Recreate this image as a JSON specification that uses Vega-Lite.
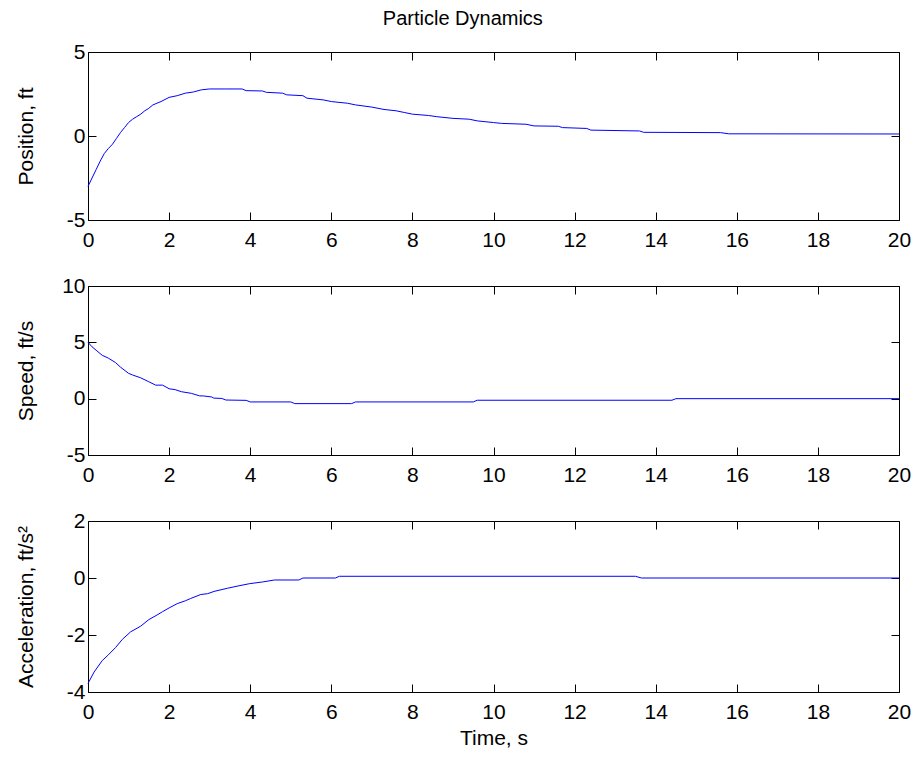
{
  "$schema": "https://vega.github.io/schema/vega-lite/v6.json",
  "title": {"text": "Particle Dynamics", "fontSize": 20, "font": "Liberation Sans", "fontWeight": "normal", "color": "black", "anchor": "middle", "offset": 12},
  "padding": {"left": 14, "top": 8, "right": 10, "bottom": 5},
  "background": "white",
  "datasets": {
    "pos": [
      {"t":0,"v":-3.0},{"t":0.1,"v":-2.5},{"t":0.2,"v":-2.0},{"t":0.3,"v":-1.5},{"t":0.4,"v":-1.05},{"t":0.5,"v":-0.75},{"t":0.6,"v":-0.5},{"t":0.7,"v":-0.15},{"t":0.8,"v":0.2},{"t":0.9,"v":0.5},{"t":1.0,"v":0.8},{"t":1.1,"v":1.0},{"t":1.2,"v":1.15},{"t":1.3,"v":1.3},{"t":1.4,"v":1.5},{"t":1.5,"v":1.65},{"t":1.6,"v":1.85},{"t":1.7,"v":1.95},{"t":1.8,"v":2.05},{"t":2.0,"v":2.3},{"t":2.2,"v":2.4},{"t":2.4,"v":2.55},{"t":2.6,"v":2.62},{"t":2.8,"v":2.75},{"t":3.0,"v":2.8},{"t":3.4,"v":2.8},{"t":3.8,"v":2.8},{"t":3.9,"v":2.7},{"t":4.3,"v":2.68},{"t":4.4,"v":2.6},{"t":4.8,"v":2.55},{"t":4.9,"v":2.45},{"t":5.3,"v":2.4},{"t":5.4,"v":2.25},{"t":5.8,"v":2.15},{"t":6.0,"v":2.05},{"t":6.4,"v":1.95},{"t":6.6,"v":1.85},{"t":7.0,"v":1.72},{"t":7.3,"v":1.58},{"t":7.6,"v":1.5},{"t":7.8,"v":1.4},{"t":8.0,"v":1.3},{"t":8.4,"v":1.22},{"t":8.6,"v":1.15},{"t":9.0,"v":1.05},{"t":9.4,"v":1.0},{"t":9.6,"v":0.9},{"t":10.0,"v":0.8},{"t":10.2,"v":0.75},{"t":10.8,"v":0.7},{"t":11.0,"v":0.6},{"t":11.6,"v":0.58},{"t":11.7,"v":0.5},{"t":12.3,"v":0.45},{"t":12.4,"v":0.35},{"t":13.6,"v":0.3},{"t":13.7,"v":0.22},{"t":15.6,"v":0.2},{"t":15.8,"v":0.13},{"t":20,"v":0.12}
    ],
    "spd": [
      {"t":0,"v":5.0},{"t":0.1,"v":4.6},{"t":0.2,"v":4.3},{"t":0.35,"v":3.85},{"t":0.5,"v":3.6},{"t":0.68,"v":3.2},{"t":0.8,"v":2.8},{"t":1.0,"v":2.25},{"t":1.1,"v":2.1},{"t":1.3,"v":1.85},{"t":1.5,"v":1.5},{"t":1.67,"v":1.2},{"t":1.84,"v":1.2},{"t":2.0,"v":0.88},{"t":2.15,"v":0.8},{"t":2.3,"v":0.62},{"t":2.55,"v":0.47},{"t":2.75,"v":0.25},{"t":2.85,"v":0.24},{"t":3.05,"v":0.15},{"t":3.1,"v":0.05},{"t":3.3,"v":0.02},{"t":3.4,"v":-0.12},{"t":3.9,"v":-0.15},{"t":4.0,"v":-0.29},{"t":5.0,"v":-0.29},{"t":5.1,"v":-0.44},{"t":6.5,"v":-0.44},{"t":6.6,"v":-0.29},{"t":9.5,"v":-0.29},{"t":9.6,"v":-0.14},{"t":14.4,"v":-0.14},{"t":14.5,"v":0},{"t":20,"v":0}
    ],
    "acc": [
      {"t":0,"v":-3.7},{"t":0.15,"v":-3.3},{"t":0.35,"v":-2.9},{"t":0.5,"v":-2.7},{"t":0.68,"v":-2.44},{"t":0.85,"v":-2.15},{"t":1.05,"v":-1.89},{"t":1.3,"v":-1.69},{"t":1.5,"v":-1.46},{"t":1.7,"v":-1.3},{"t":1.84,"v":-1.18},{"t":2.0,"v":-1.05},{"t":2.2,"v":-0.9},{"t":2.4,"v":-0.8},{"t":2.53,"v":-0.72},{"t":2.78,"v":-0.58},{"t":2.95,"v":-0.55},{"t":3.11,"v":-0.47},{"t":3.44,"v":-0.36},{"t":3.7,"v":-0.28},{"t":3.98,"v":-0.2},{"t":4.3,"v":-0.14},{"t":4.6,"v":-0.07},{"t":5.2,"v":-0.07},{"t":5.3,"v":0},{"t":6.1,"v":0},{"t":6.2,"v":0.06},{"t":13.5,"v":0.06},{"t":13.65,"v":0},{"t":20,"v":0}
    ]
  },
  "config": {
    "font": "Liberation Sans",
    "view": {"stroke": "black", "strokeWidth": 1},
    "axis": {
      "grid": false, "domain": false, "tickSize": -8, "tickColor": "black", "tickWidth": 1,
      "labelColor": "black", "labelFontSize": 21, "labelFont": "Liberation Sans", "labelFlush": false, "labelOverlap": false,
      "titleFontSize": 21, "titleFontWeight": "normal", "titleColor": "black", "titleFont": "Liberation Sans"
    },
    "axisLeft": {"labelPadding": 11, "minExtent": 25, "maxExtent": 25, "titlePadding": 27},
    "axisBottom": {"labelPadding": 17, "minExtent": 30, "maxExtent": 30, "titlePadding": 5},
    "line": {"color": "#0000ff", "strokeWidth": 1}
  },
  "bounds": "flush",
  "spacing": 66,
  "vconcat": [
    {
      "width": 811, "height": 168,
      "data": {"name": "pos"},
      "layer": [
        {"mark": {"type": "line", "color": "#0000ff", "strokeWidth": 1},
         "encoding": {
           "x": {"field": "t", "type": "quantitative", "scale": {"domain": [0, 20], "nice": false}, "axis": {"orient": "bottom", "values": [0,2,4,6,8,10,12,14,16,18,20], "title": null}},
           "y": {"field": "v", "type": "quantitative", "scale": {"domain": [-5, 5], "nice": false}, "axis": {"orient": "left", "values": [-5,0,5], "labelExpr": "replace(datum.label, '−', '-')", "title": "Position, ft"}}
         }},
        {"mark": {"type": "line", "opacity": 0},
         "encoding": {
           "x": {"field": "t", "type": "quantitative", "axis": {"orient": "top", "values": [0,2,4,6,8,10,12,14,16,18,20], "labels": false, "title": null}},
           "y": {"field": "v", "type": "quantitative", "axis": {"orient": "right", "values": [-5,0,5], "labels": false, "title": null}}
         }}
      ],
      "resolve": {"axis": {"x": "independent", "y": "independent"}}
    },
    {
      "width": 811, "height": 169,
      "data": {"name": "spd"},
      "layer": [
        {"mark": {"type": "line", "color": "#0000ff", "strokeWidth": 1},
         "encoding": {
           "x": {"field": "t", "type": "quantitative", "scale": {"domain": [0, 20], "nice": false}, "axis": {"orient": "bottom", "values": [0,2,4,6,8,10,12,14,16,18,20], "title": null}},
           "y": {"field": "v", "type": "quantitative", "scale": {"domain": [-5, 10], "nice": false}, "axis": {"orient": "left", "values": [-5,0,5,10], "labelExpr": "replace(datum.label, '−', '-')", "title": "Speed, ft/s"}}
         }},
        {"mark": {"type": "line", "opacity": 0},
         "encoding": {
           "x": {"field": "t", "type": "quantitative", "axis": {"orient": "top", "values": [0,2,4,6,8,10,12,14,16,18,20], "labels": false, "title": null}},
           "y": {"field": "v", "type": "quantitative", "axis": {"orient": "right", "values": [-5,0,5,10], "labels": false, "title": null}}
         }}
      ],
      "resolve": {"axis": {"x": "independent", "y": "independent"}}
    },
    {
      "width": 811, "height": 171,
      "data": {"name": "acc"},
      "layer": [
        {"mark": {"type": "line", "color": "#0000ff", "strokeWidth": 1},
         "encoding": {
           "x": {"field": "t", "type": "quantitative", "scale": {"domain": [0, 20], "nice": false}, "axis": {"orient": "bottom", "values": [0,2,4,6,8,10,12,14,16,18,20], "title": "Time, s"}},
           "y": {"field": "v", "type": "quantitative", "scale": {"domain": [-4, 2], "nice": false}, "axis": {"orient": "left", "values": [-4,-2,0,2], "labelExpr": "replace(datum.label, '−', '-')", "title": "Acceleration, ft/s²"}}
         }},
        {"mark": {"type": "line", "opacity": 0},
         "encoding": {
           "x": {"field": "t", "type": "quantitative", "axis": {"orient": "top", "values": [0,2,4,6,8,10,12,14,16,18,20], "labels": false, "title": null}},
           "y": {"field": "v", "type": "quantitative", "axis": {"orient": "right", "values": [-4,-2,0,2], "labels": false, "title": null}}
         }}
      ],
      "resolve": {"axis": {"x": "independent", "y": "independent"}}
    }
  ]
}
